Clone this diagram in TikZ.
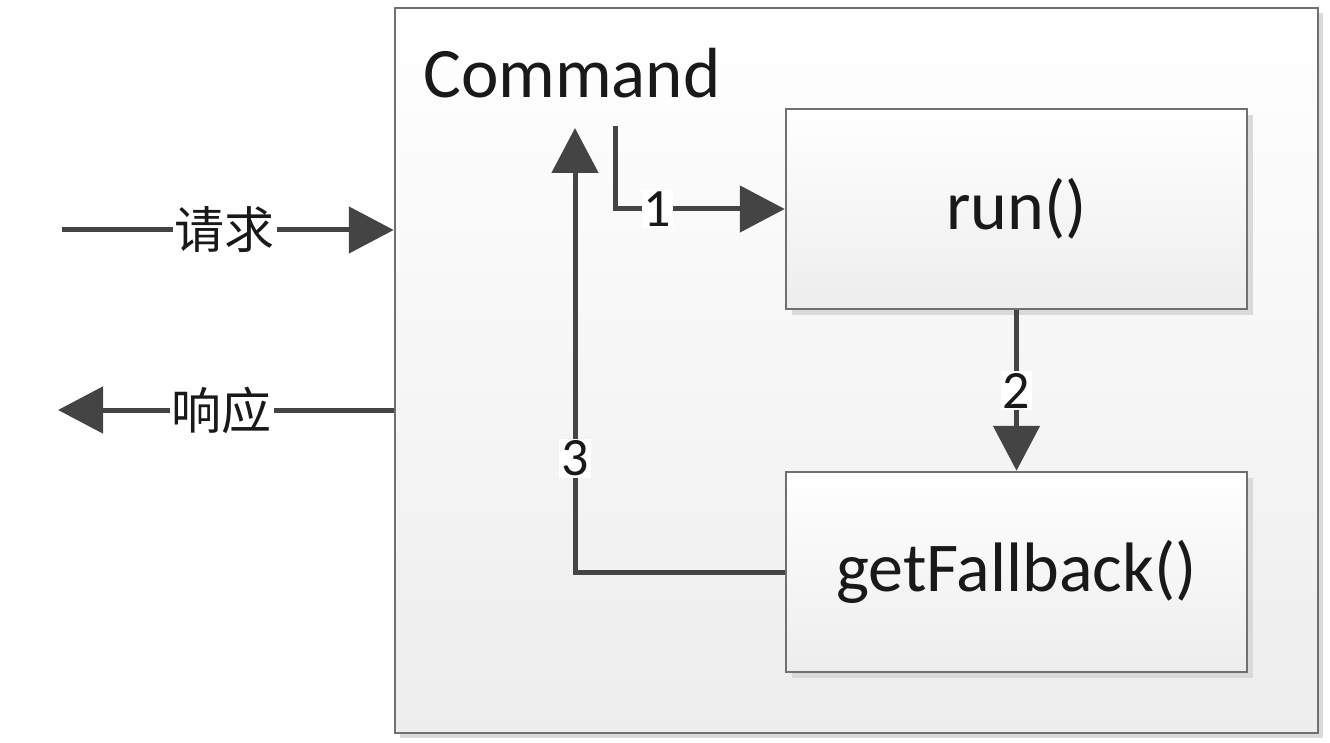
\documentclass[tikz,border=0pt]{standalone}
\usepackage{fontspec}
\setmainfont{Carlito}
\newfontfamily\cjk{Noto Sans CJK SC}
\usetikzlibrary{arrows.meta,shadows}
\definecolor{linec}{HTML}{444444}
\definecolor{borderc}{HTML}{707070}
\definecolor{shadowc}{HTML}{DADADA}
\tikzset{
  bigbox/.style={draw=borderc, line width=2.5pt, top color=white, bottom color=black!7,
    minimum width=923pt, minimum height=725pt, inner sep=0pt,
    drop shadow={shadow xshift=5pt, shadow yshift=-5pt, fill=shadowc, opacity=1}},
  fbox/.style={draw=borderc, line width=2.5pt, top color=white, bottom color=black!7,
    minimum width=461pt, minimum height=200pt, inner sep=0pt, text=black!90,
    font=\fontsize{70}{76}\selectfont,
    drop shadow={shadow xshift=6pt, shadow yshift=-6pt, fill=shadowc, opacity=1}},
  conn/.style={draw=linec, line width=5pt, -{Triangle[length=45pt,width=46pt]}},
  lbl/.style={fill=white, inner sep=2pt, text=black!90, font=\fontsize{54}{58}\selectfont},
  cjklbl/.style={fill=white, inner sep=2pt, text=black!90, font=\cjk\fontsize{50}{56}\selectfont},
}
\begin{document}
\begin{tikzpicture}[x=1pt,y=-1pt]
\useasboundingbox (0,0) rectangle (1330,743);
\node[bigbox] (cmd) at (856.5,370.5) {};
\node[anchor=base west, inner sep=0pt, text=black!90, font=\fontsize{71}{76}\selectfont] (cmdlabel) at (423,98) {Command};
\node[fbox] (run) at (1016.5,209) {run()};
\node[fbox] (fb) at (1016.5,572) {getFallback()};
\coordinate (c1) at (615,126);
\coordinate (c3) at (575,128);
\coordinate (reqstart) at (62,230);
\coordinate (respend) at (58,410);
\draw[conn] (c1) |- (run.west) node[pos=0.625, lbl] {1};
\draw[conn] (fb.west) -| (c3) node[pos=0.628, lbl] {3};
\draw[conn] (run.south) -- (fb.north) node[midway, lbl] {2};
\draw[conn] (reqstart) -- (cmd.west |- reqstart) node[pos=0.49, cjklbl] {请求};
\draw[conn] (cmd.west |- respend) -- (respend) node[pos=0.513, cjklbl] {响应};
\end{tikzpicture}
\end{document}
